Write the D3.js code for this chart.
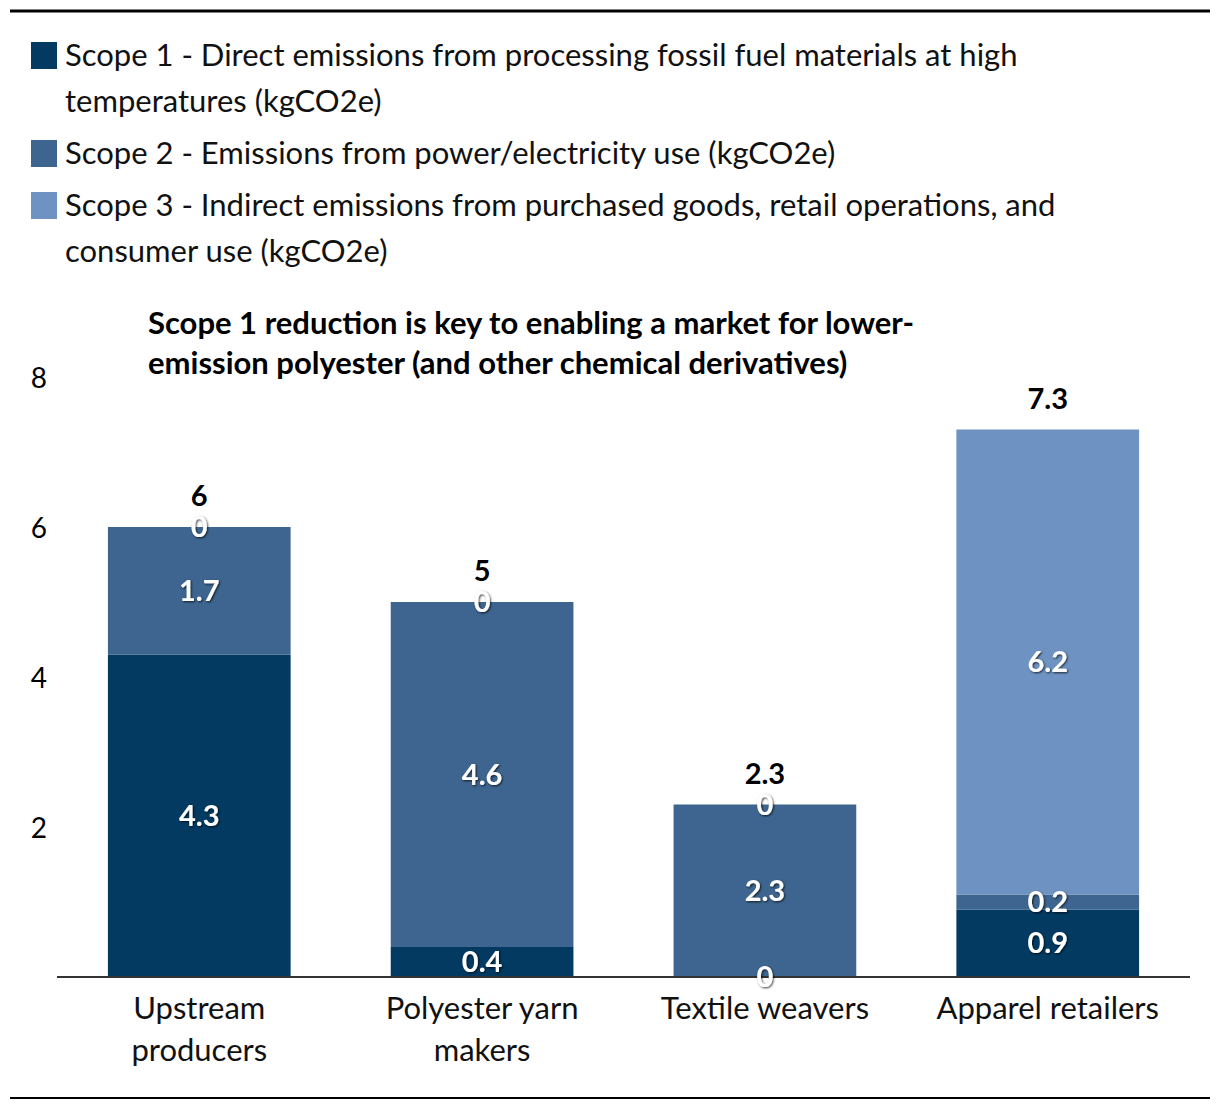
<!DOCTYPE html>
<html>
<head>
<meta charset="utf-8">
<script src="https://cdn.jsdelivr.net/npm/d3@7"></script>
<style>
  body { margin: 0; background: #fff; }
  svg { display: block; font-family: Lato, "Noto Sans", sans-serif; }
</style>
</head>
<body>
<svg id="chart" width="1220" height="1112"></svg>
<script>
// data
const categories = [["Upstream", "producers"], ["Polyester yarn", "makers"], ["Textile weavers"], ["Apparel retailers"]];
const scope1 = [4.3, 0.4, 0, 0.9];
const scope2 = [1.7, 4.6, 2.3, 0.2];
const scope3 = [0, 0, 0, 6.2];
const yTicks = [2, 4, 6, 8];
const seriesNames = [
  ["Scope 1 - Direct emissions from processing fossil fuel materials at high", "temperatures (kgCO2e)"],
  ["Scope 2 - Emissions from power/electricity use (kgCO2e)"],
  ["Scope 3 - Indirect emissions from purchased goods, retail operations, and", "consumer use (kgCO2e)"]
];
const colors = ["#023a62", "#3d658f", "#6e93c2"];
const title = ["Scope 1 reduction is key to enabling a market for lower-", "emission polyester (and other chemical derivatives)"];

const fmt = v => String(Math.round(v * 10) / 10);

const svg = d3.select("#chart");

// drop shadow for the white value labels
const defs = svg.append("defs");
defs.append("filter").attr("id", "shadow")
  .attr("x", "-30%").attr("y", "-30%").attr("width", "160%").attr("height", "160%")
  .append("feDropShadow")
  .attr("dx", 1).attr("dy", 1).attr("stdDeviation", 1.3)
  .attr("flood-color", "#000").attr("flood-opacity", 0.75);

// top and bottom rules
svg.append("line").attr("x1", 10).attr("x2", 1210).attr("y1", 11).attr("y2", 11)
  .attr("stroke", "#000").attr("stroke-width", 3);
svg.append("line").attr("x1", 10).attr("x2", 1210).attr("y1", 1098).attr("y2", 1098)
  .attr("stroke", "#000").attr("stroke-width", 2);

// legend
const legendY = [55, 153, 205];
const legend = svg.append("g").selectAll("g")
  .data(seriesNames)
  .enter().append("g")
  .attr("transform", (d, i) => `translate(0,${legendY[i]})`);

legend.append("rect")
  .attr("x", 31).attr("y", -13).attr("width", 26).attr("height", 27)
  .attr("fill", (d, i) => colors[i]);

legend.append("text")
  .attr("x", 65)
  .attr("font-size", 31)
  .attr("fill", "#111")
  .selectAll("tspan")
  .data(d => d)
  .enter().append("tspan")
  .attr("x", 65)
  .attr("y", (d, i) => i * 46)
  .attr("dy", "0.35em")
  .text(d => d);

// title
svg.append("text")
  .attr("font-size", 31).attr("font-weight", "bold").attr("fill", "#000")
  .selectAll("tspan")
  .data(title)
  .enter().append("tspan")
  .attr("x", 148)
  .attr("y", (d, i) => 323 + i * 40)
  .attr("dy", "0.35em")
  .text(d => d);

// scales
const x = d3.scaleBand()
  .domain(d3.range(categories.length))
  .range([57, 1190])
  .paddingInner(0.354)
  .paddingOuter(0.18);

const y = d3.scaleLinear().domain([0, 8]).range([977, 377]);

// y tick labels, no axis line
const yAxis = svg.append("g")
  .attr("transform", "translate(47,2)")
  .call(d3.axisLeft(y).tickValues(yTicks).tickSize(0).tickPadding(0));
yAxis.select(".domain").remove();
yAxis.selectAll("text")
  .attr("font-family", "Lato, 'Noto Sans', sans-serif")
  .attr("font-size", 28).attr("fill", "#000");

// stacked data
const rows = categories.map((c, i) => ({ i, s1: scope1[i], s2: scope2[i], s3: scope3[i] }));
const stack = d3.stack().keys(["s1", "s2", "s3"]);
const series = stack(rows);

svg.append("g").selectAll("g")
  .data(series)
  .enter().append("g")
  .attr("fill", (d, k) => colors[k])
  .selectAll("rect")
  .data(d => d)
  .enter().append("rect")
  .attr("x", d => x(d.data.i))
  .attr("width", x.bandwidth())
  .attr("y", d => y(d[1]))
  .attr("height", d => y(d[0]) - y(d[1]));

// baseline
svg.append("line")
  .attr("x1", 57).attr("x2", 1190)
  .attr("y1", y(0)).attr("y2", y(0))
  .attr("stroke", "#333").attr("stroke-width", 2);

// segment labels
svg.append("g").selectAll("g")
  .data(series)
  .enter().append("g")
  .selectAll("text")
  .data(d => d.map(p => ({ p, key: d.key })))
  .enter().append("text")
  .attr("x", d => x(d.p.data.i) + x.bandwidth() / 2)
  .attr("y", d => y((d.p[0] + d.p[1]) / 2))
  .attr("dy", "0.35em")
  .attr("text-anchor", "middle")
  .attr("font-size", 29).attr("font-weight", "bold")
  .attr("fill", "#fff")
  .attr("filter", "url(#shadow)")
  .text(d => fmt(d.p.data[d.key]));

// totals
svg.append("g").selectAll("text")
  .data(rows)
  .enter().append("text")
  .attr("x", d => x(d.i) + x.bandwidth() / 2)
  .attr("y", d => y(d.s1 + d.s2 + d.s3) - 31)
  .attr("dy", "0.35em")
  .attr("text-anchor", "middle")
  .attr("font-size", 29).attr("font-weight", "bold")
  .attr("fill", "#000")
  .text(d => fmt(d.s1 + d.s2 + d.s3));

// category labels
svg.append("g").selectAll("text")
  .data(categories)
  .enter().append("text")
  .attr("text-anchor", "middle")
  .attr("font-size", 31).attr("fill", "#111")
  .selectAll("tspan")
  .data((d, i) => d.map(line => ({ line, i })))
  .enter().append("tspan")
  .attr("x", d => x(d.i) + x.bandwidth() / 2)
  .attr("y", (d, j) => 1008 + j * 42)
  .attr("dy", "0.35em")
  .text(d => d.line);
</script>
</body>
</html>
